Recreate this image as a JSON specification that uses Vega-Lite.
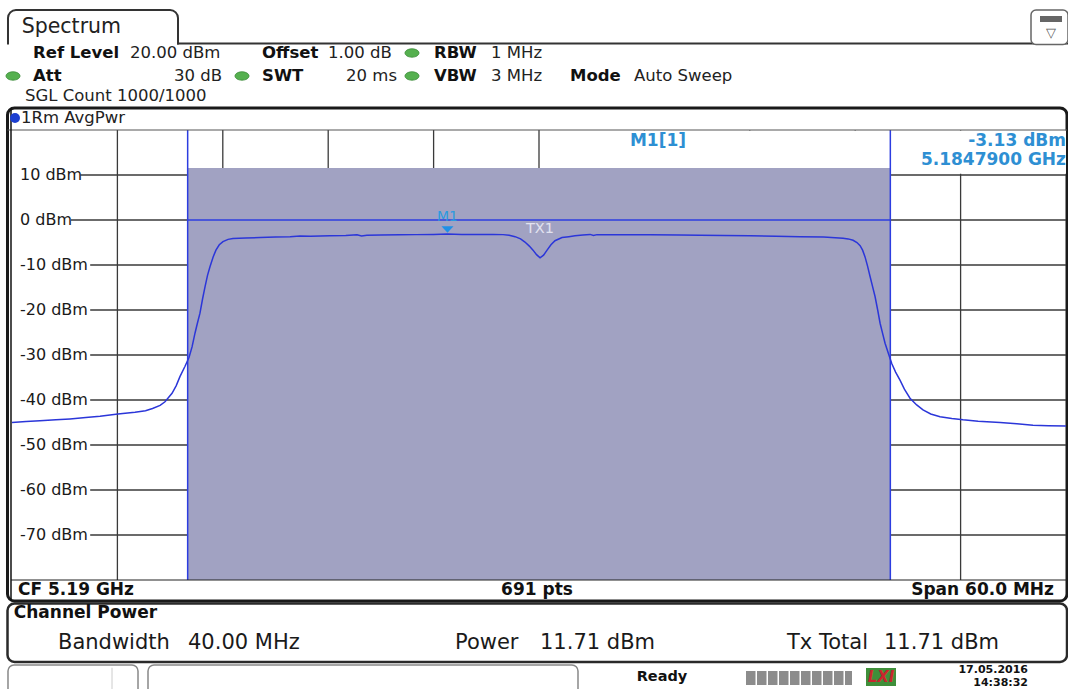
{
  "$schema": "https://vega.github.io/schema/vega-lite/v6.json",
  "width": 1054,
  "height": 450,
  "autosize": {"type": "none"},
  "padding": {"left": 12, "top": 130, "right": 2, "bottom": 109},
  "background": "white",
  "config": {"view": {"stroke": null}, "font": "DejaVu Sans", "axis": {"disable": true}},
  "datasets": {
    "trace": [
      {"f":5.16000,"p":-45.0},{"f":5.16080,"p":-44.8},{"f":5.16159,"p":-44.6},{"f":5.16250,"p":-44.4},
      {"f":5.16330,"p":-44.2},{"f":5.16420,"p":-43.9},{"f":5.16501,"p":-43.6},{"f":5.16603,"p":-43.1},
      {"f":5.16700,"p":-42.7},{"f":5.16760,"p":-42.4},{"f":5.16800,"p":-41.9},{"f":5.16843,"p":-41.2},
      {"f":5.16871,"p":-40.4},{"f":5.16911,"p":-38.5},{"f":5.16935,"p":-36.8},{"f":5.16956,"p":-34.8},
      {"f":5.16985,"p":-32.5},{"f":5.17008,"p":-30.5},{"f":5.17025,"p":-28.2},{"f":5.17042,"p":-25.1},
      {"f":5.17055,"p":-23.0},{"f":5.17070,"p":-20.7},{"f":5.17085,"p":-17.5},{"f":5.17099,"p":-14.8},
      {"f":5.17113,"p":-12.3},{"f":5.17127,"p":-10.4},{"f":5.17145,"p":-8.2},{"f":5.17161,"p":-6.7},
      {"f":5.17180,"p":-5.5},{"f":5.17201,"p":-4.8},{"f":5.17230,"p":-4.3},{"f":5.17258,"p":-4.1},
      {"f":5.17330,"p":-4.0},{"f":5.17412,"p":-3.9},{"f":5.17500,"p":-3.8},{"f":5.17583,"p":-3.7},
      {"f":5.17640,"p":-3.55},{"f":5.17700,"p":-3.6},{"f":5.17810,"p":-3.5},{"f":5.17900,"p":-3.45},
      {"f":5.17964,"p":-3.3},{"f":5.17990,"p":-3.55},{"f":5.18020,"p":-3.4},{"f":5.18100,"p":-3.35},
      {"f":5.18209,"p":-3.3},{"f":5.18300,"p":-3.25},{"f":5.18400,"p":-3.2},{"f":5.18479,"p":-3.13},
      {"f":5.18560,"p":-3.2},{"f":5.18664,"p":-3.2},{"f":5.18740,"p":-3.2},{"f":5.18795,"p":-3.25},
      {"f":5.18830,"p":-3.4},{"f":5.18864,"p":-3.7},{"f":5.18895,"p":-4.2},{"f":5.18920,"p":-4.9},
      {"f":5.18945,"p":-5.8},{"f":5.18966,"p":-6.7},{"f":5.18986,"p":-7.7},{"f":5.19006,"p":-8.4},
      {"f":5.19026,"p":-7.8},{"f":5.19046,"p":-6.7},{"f":5.19068,"p":-5.5},{"f":5.19091,"p":-4.6},
      {"f":5.19131,"p":-3.9},{"f":5.19170,"p":-3.7},{"f":5.19205,"p":-3.5},{"f":5.19250,"p":-3.35},
      {"f":5.19291,"p":-3.2},{"f":5.19310,"p":-3.45},{"f":5.19330,"p":-3.25},{"f":5.19450,"p":-3.25},
      {"f":5.19632,"p":-3.3},{"f":5.19800,"p":-3.35},{"f":5.19917,"p":-3.4},{"f":5.20050,"p":-3.45},
      {"f":5.20201,"p":-3.5},{"f":5.20350,"p":-3.6},{"f":5.20486,"p":-3.7},{"f":5.20620,"p":-3.8},
      {"f":5.20731,"p":-4.05},{"f":5.20760,"p":-4.2},{"f":5.20788,"p":-4.5},{"f":5.20810,"p":-5.0},
      {"f":5.20828,"p":-5.7},{"f":5.20842,"p":-6.7},{"f":5.20856,"p":-8.2},{"f":5.20870,"p":-10.2},
      {"f":5.20885,"p":-12.6},{"f":5.20899,"p":-14.8},{"f":5.20913,"p":-17.0},{"f":5.20928,"p":-20.0},
      {"f":5.20942,"p":-23.0},{"f":5.20956,"p":-25.2},{"f":5.20970,"p":-27.4},{"f":5.20990,"p":-29.8},
      {"f":5.21008,"p":-31.9},{"f":5.21030,"p":-33.8},{"f":5.21055,"p":-35.6},{"f":5.21080,"p":-37.6},
      {"f":5.21112,"p":-39.6},{"f":5.21150,"p":-41.1},{"f":5.21186,"p":-42.2},{"f":5.21230,"p":-43.1},
      {"f":5.21283,"p":-43.7},{"f":5.21350,"p":-44.1},{"f":5.21414,"p":-44.4},{"f":5.21500,"p":-44.7},
      {"f":5.21625,"p":-45.0},{"f":5.21720,"p":-45.3},{"f":5.21812,"p":-45.6},{"f":5.21900,"p":-45.7},
      {"f":5.22000,"p":-45.8}
    ],
    "hgrid": [
      {"v":10,"lab":"10 dBm"},{"v":0,"lab":"0 dBm"},{"v":-10,"lab":"-10 dBm"},{"v":-20,"lab":"-20 dBm"},
      {"v":-30,"lab":"-30 dBm"},{"v":-40,"lab":"-40 dBm"},{"v":-50,"lab":"-50 dBm"},{"v":-60,"lab":"-60 dBm"},
      {"v":-70,"lab":"-70 dBm"}
    ],
    "vgrid": [
      {"f":5.166},{"f":5.172},{"f":5.178},{"f":5.184},{"f":5.190},{"f":5.196},{"f":5.202},{"f":5.208},{"f":5.214}
    ],
    "chan": [{"f":5.17},{"f":5.21}],
    "marker": [{"f":5.18479,"p":-2.1}],
    "gdots": [
      {"x":5.182770,"y":37.111},{"x":5.160057,"y":32.0},{"x":5.173093,"y":32.0},{"x":5.182770,"y":32.0}
    ],
    "bdot": [{"x":5.160171,"y":22.667}],
    "txt": [
      {"g":"tab","x":5.160552,"y":42.889,"t":"Spectrum"},
      {"g":"hb","x":5.161195,"y":37.111,"t":"Ref Level"},
      {"g":"hr","x":5.166717,"y":37.111,"t":"20.00 dBm"},
      {"g":"hb","x":5.174232,"y":37.111,"t":"Offset"},
      {"g":"hr","x":5.177989,"y":37.111,"t":"1.00 dB"},
      {"g":"hb","x":5.184023,"y":37.111,"t":"RBW"},
      {"g":"hr","x":5.187267,"y":37.111,"t":"1 MHz"},
      {"g":"hb","x":5.161195,"y":32.0,"t":"Att"},
      {"g":"hrr","x":5.171954,"y":32.0,"t":"30 dB"},
      {"g":"hb","x":5.174232,"y":32.0,"t":"SWT"},
      {"g":"hrr","x":5.181917,"y":32.0,"t":"20 ms"},
      {"g":"hb","x":5.184023,"y":32.0,"t":"VBW"},
      {"g":"hr","x":5.187267,"y":32.0,"t":"3 MHz"},
      {"g":"hb","x":5.191765,"y":32.0,"t":"Mode"},
      {"g":"hr","x":5.195408,"y":32.0,"t":"Auto Sweep"},
      {"g":"hr","x":5.160740,"y":27.556,"t":"SGL Count 1000/1000"},
      {"g":"hr","x":5.160512,"y":22.667,"t":"1Rm AvgPwr"},
      {"g":"mkc","x":5.196774,"y":17.556,"t":"M1[1]"},
      {"g":"mkr","x":5.22,"y":17.556,"t":"-3.13 dBm"},
      {"g":"mkr","x":5.22,"y":13.333,"t":"5.1847900 GHz"},
      {"g":"m1","x":5.18479,"y":0.667,"t":"M1"},
      {"g":"tx1","x":5.190057,"y":-1.889,"t":"TX1"},
      {"g":"fl","x":5.160342,"y":-82.222,"t":"CF 5.19 GHz"},
      {"g":"fc","x":5.189886,"y":-82.222,"t":"691 pts"},
      {"g":"fr","x":5.219317,"y":-82.222,"t":"Span 60.0 MHz"},
      {"g":"fl","x":5.160102,"y":-87.333,"t":"Channel Power"},
      {"g":"big","x":5.162619,"y":-94.0,"t":"Bandwidth"},
      {"g":"big","x":5.170019,"y":-94.0,"t":"40.00 MHz"},
      {"g":"big","x":5.185218,"y":-94.0,"t":"Power"},
      {"g":"big","x":5.190057,"y":-94.0,"t":"11.71 dBm"},
      {"g":"big","x":5.204118,"y":-94.0,"t":"Tx Total"},
      {"g":"big","x":5.209640,"y":-94.0,"t":"11.71 dBm"},
      {"g":"ready","x":5.197002,"y":-101.556,"t":"Ready"},
      {"g":"date","x":5.217838,"y":-100.0,"t":"17.05.2016"},
      {"g":"date","x":5.217838,"y":-102.889,"t":"14:38:32"},
      {"g":"lxi","x":5.209469,"y":-101.556,"t":"LXI"},
      {"g":"icon","x":5.219146,"y":41.556,"t":"▽"}
    ]
  },
  "layer": [
    {
      "data": {"name": "trace"},
      "mark": {"type": "line", "opacity": 0},
      "encoding": {
        "x": {"field": "f", "type": "quantitative", "axis": null, "scale": {"domain": [5.16, 5.22], "nice": false, "zero": false}},
        "y": {"field": "p", "type": "quantitative", "axis": null, "scale": {"domain": [-80, 20], "nice": false, "zero": false}}
      }
    },
    {
      "data": {"values": [{}]},
      "mark": {"type": "rect", "fill": "white", "stroke": "#333333", "strokeWidth": 2, "cornerRadius": 8},
      "encoding": {"x": {"datum": 5.159772}, "x2": {"datum": 5.169450}, "y": {"datum": 46.667}, "y2": {"datum": 36.0}}
    },
    {
      "data": {"values": [{}]},
      "mark": {"type": "rect", "fill": "white"},
      "encoding": {"x": {"datum": 5.1593}, "x2": {"datum": 5.2202}, "y": {"datum": 39.0}, "y2": {"datum": 35.0}}
    },
    {
      "data": {"values": [{}]},
      "mark": {"type": "rule", "color": "#333333", "strokeWidth": 2},
      "encoding": {"x": {"datum": 5.169393}, "x2": {"datum": 5.220114}, "y": {"datum": 39.222}}
    },
    {
      "data": {"values": [{}]},
      "mark": {"type": "rect", "fill": "white", "stroke": "#666666", "strokeWidth": 1.5, "cornerRadius": 5},
      "encoding": {"x": {"datum": 5.218008}, "x2": {"datum": 5.220114}, "y": {"datum": 46.667}, "y2": {"datum": 39.0}}
    },
    {
      "data": {"values": [{}]},
      "mark": {"type": "rect", "fill": "#666666"},
      "encoding": {"x": {"datum": 5.218520}, "x2": {"datum": 5.219772}, "y": {"datum": 45.333}, "y2": {"datum": 44.0}}
    },
    {
      "data": {"values": [{}]},
      "mark": {"type": "rect", "fill": "white", "stroke": "#1a1a1a", "strokeWidth": 3, "cornerRadius": 7},
      "encoding": {"x": {"datum": 5.159744}, "x2": {"datum": 5.220057}, "y": {"datum": 24.889}, "y2": {"datum": -84.667}}
    },
    {
      "data": {"values": [{}]},
      "mark": {"type": "rect", "fill": "white", "stroke": "#2a2a2a", "strokeWidth": 2.5, "cornerRadius": 7},
      "encoding": {"x": {"datum": 5.159744}, "x2": {"datum": 5.220057}, "y": {"datum": -85.222}, "y2": {"datum": -98.222}}
    },
    {
      "data": {"values": [{}]},
      "mark": {"type": "rect", "fill": "white", "stroke": "#888888", "strokeWidth": 1.5, "cornerRadius": 6},
      "encoding": {"x": {"datum": 5.159772}, "x2": {"datum": 5.167173}, "y": {"datum": -98.889}, "y2": {"datum": -106}}
    },
    {
      "data": {"values": [{}]},
      "mark": {"type": "rect", "fill": "white", "stroke": "#888888", "strokeWidth": 1.5, "cornerRadius": 6},
      "encoding": {"x": {"datum": 5.167742}, "x2": {"datum": 5.192220}, "y": {"datum": -98.889}, "y2": {"datum": -106}}
    },
    {
      "data": {"values": [{}]},
      "mark": {"type": "rule", "color": "#cccccc", "strokeWidth": 1},
      "encoding": {"x": {"datum": 5.165693}, "y": {"datum": -99.5}, "y2": {"datum": -104.222}}
    },
    {
      "data": {"name": "vgrid"},
      "mark": {"type": "rule", "color": "#3a3a3a", "strokeWidth": 1.3},
      "encoding": {"x": {"field": "f", "type": "quantitative"}, "y": {"datum": -80}, "y2": {"datum": 20}}
    },
    {
      "data": {"name": "hgrid"},
      "transform": [{"calculate": "5.160455 + (9.6 * length(datum.lab) + 3) * 0.000056926", "as": "gx0"}],
      "mark": {"type": "rule", "color": "#3a3a3a", "strokeWidth": 1.3},
      "encoding": {"x": {"field": "gx0", "type": "quantitative"}, "x2": {"datum": 5.22}, "y": {"field": "v", "type": "quantitative"}}
    },
    {
      "data": {"values": [{}]},
      "mark": {"type": "rect", "fill": "white"},
      "encoding": {"x": {"datum": 5.1901}, "x2": {"datum": 5.22}, "y": {"datum": 10.3}, "y2": {"datum": 19.9}}
    },
    {
      "data": {"values": [{}]},
      "mark": {"type": "rect", "fill": "#a1a2c2"},
      "encoding": {"x": {"datum": 5.17}, "x2": {"datum": 5.21}, "y": {"datum": -80}, "y2": {"datum": 11.556}}
    },
    {
      "data": {"values": [{}]},
      "mark": {"type": "rule", "color": "#2c3de0", "strokeWidth": 1.5},
      "encoding": {"x": {"datum": 5.17}, "x2": {"datum": 5.21}, "y": {"datum": 0}}
    },
    {
      "data": {"name": "chan"},
      "mark": {"type": "rule", "color": "#2c3de0", "strokeWidth": 1.5},
      "encoding": {"x": {"field": "f", "type": "quantitative"}, "y": {"datum": -80}, "y2": {"datum": 20}}
    },
    {
      "data": {"name": "trace"},
      "mark": {"type": "line", "color": "#2b36d9", "strokeWidth": 1.5, "interpolate": "linear"},
      "encoding": {"x": {"field": "f", "type": "quantitative"}, "y": {"field": "p", "type": "quantitative"}}
    },
    {
      "data": {"name": "marker"},
      "mark": {"type": "point", "shape": "M-1,-0.55L1,-0.55L0,0.55Z", "filled": true, "color": "#1f90e6", "opacity": 1, "size": 144},
      "encoding": {"x": {"field": "f", "type": "quantitative"}, "y": {"field": "p", "type": "quantitative"}}
    },
    {
      "data": {"values": [{}]},
      "mark": {"type": "rule", "color": "#555555", "strokeWidth": 1},
      "encoding": {"x": {"datum": 5.159744}, "x2": {"datum": 5.220057}, "y": {"datum": 20}}
    },
    {
      "data": {"values": [{}]},
      "mark": {"type": "rule", "color": "#222222", "strokeWidth": 1.2},
      "encoding": {"x": {"datum": 5.159943}, "x2": {"datum": 5.220057}, "y": {"datum": -80}}
    },
    {
      "data": {"values": [{}]},
      "mark": {"type": "rule", "color": "#111111", "strokeWidth": 1.5},
      "encoding": {"x": {"datum": 5.159943}, "y": {"datum": 24.889}, "y2": {"datum": -84.667}}
    },
    {
      "data": {"name": "gdots"},
      "mark": {"type": "point", "shape": "M-1,0A1,0.6 0 1,1 1,0A1,0.6 0 1,1 -1,0Z", "filled": true, "color": "#55b04f", "stroke": "#3b8a38", "strokeWidth": 0.8, "opacity": 1, "size": 196},
      "encoding": {"x": {"field": "x", "type": "quantitative"}, "y": {"field": "y", "type": "quantitative"}}
    },
    {
      "data": {"name": "bdot"},
      "mark": {"type": "point", "shape": "circle", "filled": true, "color": "#1d3fd0", "opacity": 1, "size": 100},
      "encoding": {"x": {"field": "x", "type": "quantitative"}, "y": {"field": "y", "type": "quantitative"}}
    },
    {
      "data": {"values": [{}]},
      "mark": {"type": "rule", "color": "#8c8c8c", "strokeWidth": 14, "strokeDash": [9.5, 1.5], "strokeCap": "butt"},
      "encoding": {"x": {"datum": 5.201784}, "x2": {"datum": 5.207818}, "y": {"datum": -101.778}}
    },
    {
      "data": {"values": [{}]},
      "mark": {"type": "rect", "fill": "#3f8f3a"},
      "encoding": {"x": {"datum": 5.208614}, "x2": {"datum": 5.210322}, "y": {"datum": -99.556}, "y2": {"datum": -103.556}}
    },
    {
      "data": {"name": "txt"},
      "transform": [{"filter": "datum.g === 'tab'"}],
      "mark": {"type": "text", "align": "left", "baseline": "middle", "fontSize": 20.5, "color": "#222222"},
      "encoding": {"x": {"field": "x", "type": "quantitative"}, "y": {"field": "y", "type": "quantitative"}, "text": {"field": "t"}}
    },
    {
      "data": {"name": "txt"},
      "transform": [{"filter": "datum.g === 'hb'"}],
      "mark": {"type": "text", "align": "left", "baseline": "middle", "fontSize": 16.5, "fontWeight": "bold", "color": "#111111"},
      "encoding": {"x": {"field": "x", "type": "quantitative"}, "y": {"field": "y", "type": "quantitative"}, "text": {"field": "t"}}
    },
    {
      "data": {"name": "txt"},
      "transform": [{"filter": "datum.g === 'hr'"}],
      "mark": {"type": "text", "align": "left", "baseline": "middle", "fontSize": 16.5, "color": "#222222"},
      "encoding": {"x": {"field": "x", "type": "quantitative"}, "y": {"field": "y", "type": "quantitative"}, "text": {"field": "t"}}
    },
    {
      "data": {"name": "txt"},
      "transform": [{"filter": "datum.g === 'hrr'"}],
      "mark": {"type": "text", "align": "right", "baseline": "middle", "fontSize": 16.5, "color": "#222222"},
      "encoding": {"x": {"field": "x", "type": "quantitative"}, "y": {"field": "y", "type": "quantitative"}, "text": {"field": "t"}}
    },
    {
      "data": {"name": "txt"},
      "transform": [{"filter": "datum.g === 'mkc'"}],
      "mark": {"type": "text", "align": "center", "baseline": "middle", "fontSize": 17, "fontWeight": "bold", "color": "#2e8fd3"},
      "encoding": {"x": {"field": "x", "type": "quantitative"}, "y": {"field": "y", "type": "quantitative"}, "text": {"field": "t"}}
    },
    {
      "data": {"name": "txt"},
      "transform": [{"filter": "datum.g === 'mkr'"}],
      "mark": {"type": "text", "align": "right", "baseline": "middle", "fontSize": 17, "fontWeight": "bold", "color": "#2e8fd3"},
      "encoding": {"x": {"field": "x", "type": "quantitative"}, "y": {"field": "y", "type": "quantitative"}, "text": {"field": "t"}}
    },
    {
      "data": {"name": "txt"},
      "transform": [{"filter": "datum.g === 'm1'"}],
      "mark": {"type": "text", "align": "center", "baseline": "middle", "fontSize": 14, "color": "#2a9be0"},
      "encoding": {"x": {"field": "x", "type": "quantitative"}, "y": {"field": "y", "type": "quantitative"}, "text": {"field": "t"}}
    },
    {
      "data": {"name": "txt"},
      "transform": [{"filter": "datum.g === 'tx1'"}],
      "mark": {"type": "text", "align": "center", "baseline": "middle", "fontSize": 14.5, "color": "#e2e2f0"},
      "encoding": {"x": {"field": "x", "type": "quantitative"}, "y": {"field": "y", "type": "quantitative"}, "text": {"field": "t"}}
    },
    {
      "data": {"name": "txt"},
      "transform": [{"filter": "datum.g === 'fl'"}],
      "mark": {"type": "text", "align": "left", "baseline": "middle", "fontSize": 17, "fontWeight": "bold", "color": "#111111"},
      "encoding": {"x": {"field": "x", "type": "quantitative"}, "y": {"field": "y", "type": "quantitative"}, "text": {"field": "t"}}
    },
    {
      "data": {"name": "txt"},
      "transform": [{"filter": "datum.g === 'fc'"}],
      "mark": {"type": "text", "align": "center", "baseline": "middle", "fontSize": 17, "fontWeight": "bold", "color": "#111111"},
      "encoding": {"x": {"field": "x", "type": "quantitative"}, "y": {"field": "y", "type": "quantitative"}, "text": {"field": "t"}}
    },
    {
      "data": {"name": "txt"},
      "transform": [{"filter": "datum.g === 'fr'"}],
      "mark": {"type": "text", "align": "right", "baseline": "middle", "fontSize": 17, "fontWeight": "bold", "color": "#111111"},
      "encoding": {"x": {"field": "x", "type": "quantitative"}, "y": {"field": "y", "type": "quantitative"}, "text": {"field": "t"}}
    },
    {
      "data": {"name": "txt"},
      "transform": [{"filter": "datum.g === 'big'"}],
      "mark": {"type": "text", "align": "left", "baseline": "middle", "fontSize": 21, "color": "#1a1a1a"},
      "encoding": {"x": {"field": "x", "type": "quantitative"}, "y": {"field": "y", "type": "quantitative"}, "text": {"field": "t"}}
    },
    {
      "data": {"name": "txt"},
      "transform": [{"filter": "datum.g === 'ready'"}],
      "mark": {"type": "text", "align": "center", "baseline": "middle", "fontSize": 14.5, "fontWeight": "bold", "color": "#111111"},
      "encoding": {"x": {"field": "x", "type": "quantitative"}, "y": {"field": "y", "type": "quantitative"}, "text": {"field": "t"}}
    },
    {
      "data": {"name": "txt"},
      "transform": [{"filter": "datum.g === 'date'"}],
      "mark": {"type": "text", "align": "right", "baseline": "middle", "fontSize": 11, "fontWeight": "bold", "color": "#111111"},
      "encoding": {"x": {"field": "x", "type": "quantitative"}, "y": {"field": "y", "type": "quantitative"}, "text": {"field": "t"}}
    },
    {
      "data": {"name": "txt"},
      "transform": [{"filter": "datum.g === 'lxi'"}],
      "mark": {"type": "text", "align": "center", "baseline": "middle", "fontSize": 15, "fontWeight": "bold", "fontStyle": "italic", "color": "#c8262d"},
      "encoding": {"x": {"field": "x", "type": "quantitative"}, "y": {"field": "y", "type": "quantitative"}, "text": {"field": "t"}}
    },
    {
      "data": {"name": "txt"},
      "transform": [{"filter": "datum.g === 'icon'"}],
      "mark": {"type": "text", "align": "center", "baseline": "middle", "fontSize": 13, "color": "#555555"},
      "encoding": {"x": {"field": "x", "type": "quantitative"}, "y": {"field": "y", "type": "quantitative"}, "text": {"field": "t"}}
    },
    {
      "data": {"name": "hgrid"},
      "mark": {"type": "text", "align": "left", "baseline": "middle", "fontSize": 16, "color": "#1a1a1a"},
      "encoding": {"x": {"datum": 5.160455}, "y": {"field": "v", "type": "quantitative"}, "text": {"field": "lab"}}
    }
  ]
}
